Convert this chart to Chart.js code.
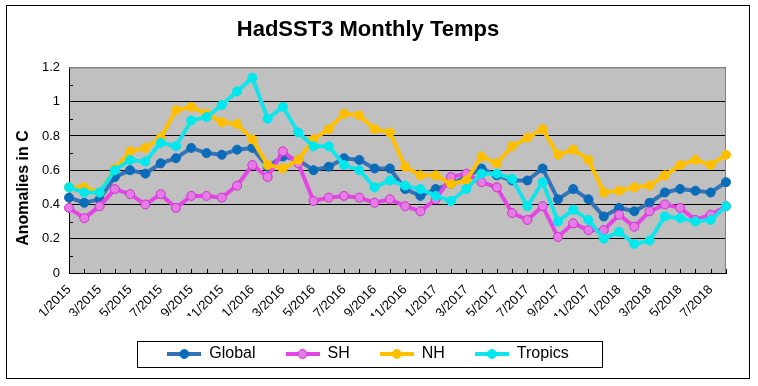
<!DOCTYPE html>
<html>
<head>
<meta charset="utf-8">
<script src="https://cdn.jsdelivr.net/npm/chart.js@4"></script>
<style>
  html, body { margin: 0; padding: 0; background: #fff; }
  #wrap { width: 758px; height: 386px; }
</style>
</head>
<body>
<div id="wrap"><canvas id="tempsChart" width="758" height="386"></canvas></div>
<script>
const months = [
    '1/2015', '2/2015', '3/2015', '4/2015', '5/2015', '6/2015', '7/2015', '8/2015', '9/2015', '10/2015', '11/2015', '12/2015',
    '1/2016', '2/2016', '3/2016', '4/2016', '5/2016', '6/2016', '7/2016', '8/2016', '9/2016', '10/2016', '11/2016', '12/2016',
    '1/2017', '2/2017', '3/2017', '4/2017', '5/2017', '6/2017', '7/2017', '8/2017', '9/2017', '10/2017', '11/2017', '12/2017',
    '1/2018', '2/2018', '3/2018', '4/2018', '5/2018', '6/2018', '7/2018', '8/2018'
];

const globalTemps = [
    0.44, 0.41, 0.43, 0.56, 0.60, 0.58, 0.64, 0.67, 0.73, 0.70, 0.69, 0.72,
    0.73, 0.62, 0.68, 0.66, 0.60, 0.62, 0.67, 0.66, 0.61, 0.61, 0.49, 0.45,
    0.49, 0.52, 0.56, 0.61, 0.57, 0.54, 0.54, 0.61, 0.43, 0.49, 0.43, 0.33,
    0.38, 0.36, 0.41, 0.47, 0.49, 0.48, 0.47, 0.53
];
const shTemps = [
    0.38, 0.32, 0.39, 0.49, 0.46, 0.40, 0.46, 0.38, 0.45, 0.45, 0.44, 0.51,
    0.63, 0.56, 0.71, 0.64, 0.42, 0.44, 0.45, 0.44, 0.41, 0.43, 0.39, 0.36,
    0.43, 0.56, 0.58, 0.53, 0.50, 0.35, 0.31, 0.39, 0.21, 0.29, 0.25, 0.25,
    0.34, 0.27, 0.36, 0.40, 0.38, 0.31, 0.34, 0.39
];
const nhTemps = [
    0.50, 0.50, 0.47, 0.61, 0.71, 0.73, 0.79, 0.95, 0.97, 0.93, 0.88, 0.87,
    0.78, 0.63, 0.61, 0.66, 0.78, 0.84, 0.93, 0.92, 0.84, 0.82, 0.62, 0.57,
    0.57, 0.52, 0.54, 0.68, 0.64, 0.74, 0.79, 0.84, 0.69, 0.72, 0.66, 0.47,
    0.48, 0.50, 0.51, 0.57, 0.63, 0.66, 0.63, 0.69
];
const tropicsTemps = [
    0.50, 0.47, 0.47, 0.60, 0.66, 0.65, 0.76, 0.74, 0.89, 0.91, 0.98, 1.06,
    1.14, 0.90, 0.97, 0.82, 0.74, 0.74, 0.63, 0.60, 0.50, 0.54, 0.51, 0.49,
    0.45, 0.42, 0.49, 0.58, 0.58, 0.55, 0.39, 0.53, 0.30, 0.37, 0.31, 0.20,
    0.24, 0.17, 0.19, 0.33, 0.32, 0.30, 0.31, 0.39
];

const FONT = "'Liberation Sans', Arial, sans-serif";

// little line-with-dot picture for the legend
function legendMarker(line, fill, stroke) {
    const c = document.createElement('canvas');
    c.width = 34;
    c.height = 12;
    const g = c.getContext('2d');
    g.strokeStyle = line;
    g.lineWidth = 4;
    g.beginPath();
    g.moveTo(0, 6);
    g.lineTo(34, 6);
    g.stroke();
    g.beginPath();
    g.arc(17, 6, 4.5, 0, Math.PI * 2);
    g.fillStyle = fill;
    g.fill();
    g.lineWidth = 1;
    g.strokeStyle = stroke;
    g.stroke();
    return c;
}

const series = [
    { label: 'Global', data: globalTemps, line: '#3473b5', fill: '#0b6cba', stroke: '#0b6cba', order: 4 },
    { label: 'SH', data: shTemps, line: '#e545e5', fill: '#e67ae6', stroke: '#cc33cc', order: 3 },
    { label: 'NH', data: nhTemps, line: '#ffc000', fill: '#ffbf00', stroke: '#ffbf00', order: 2 },
    { label: 'Tropics', data: tropicsTemps, line: '#14e4ea', fill: '#00e8ee', stroke: '#00e8ee', order: 1 }
];

const framePlugin = {
    id: 'frame',
    beforeDraw(chart) {
        const { ctx, chartArea: a } = chart;
        ctx.save();
        ctx.fillStyle = '#fff';
        ctx.fillRect(0, 0, chart.width, chart.height);
        ctx.fillStyle = '#c0c0c0';
        ctx.fillRect(a.left, a.top, a.right - a.left, a.bottom - a.top);
        ctx.restore();
    },
    beforeDatasetsDraw(chart) {
        const { ctx, chartArea: a, scales } = chart;
        ctx.save();
        // grey top / right edge of the plot
        ctx.strokeStyle = '#808080';
        ctx.lineWidth = 1;
        ctx.beginPath();
        ctx.moveTo(a.left, a.top + 0.5);
        ctx.lineTo(a.right - 0.5, a.top + 0.5);
        ctx.lineTo(a.right - 0.5, a.bottom);
        ctx.stroke();
        // inner tick marks
        ctx.strokeStyle = '#000';
        ctx.beginPath();
        for (let v = 0.1; v < 1.2; v += 0.2) {
            const y = Math.round(scales.y.getPixelForValue(v)) + 0.5;
            ctx.moveTo(a.left, y);
            ctx.lineTo(a.left + 4, y);
        }
        for (let i = 0; i < months.length; i++) {
            const x = Math.round(scales.x.getPixelForValue(i)) + 0.5;
            ctx.moveTo(x, a.bottom);
            ctx.lineTo(x, a.bottom - 4);
        }
        ctx.stroke();
        ctx.restore();
    },
    afterDraw(chart) {
        const { ctx } = chart;
        ctx.save();
        ctx.strokeStyle = '#000';
        ctx.lineWidth = 1;
        ctx.strokeRect(6.5, 5.5, 743, 373);
        // y axis title, sits a bit below the middle like the original
        ctx.translate(24, 188);
        ctx.rotate(-Math.PI / 2);
        ctx.font = 'bold 16px ' + FONT;
        ctx.fillStyle = '#000';
        ctx.textAlign = 'center';
        ctx.textBaseline = 'middle';
        ctx.fillText('Anomalies in C', 0, 0);
        ctx.setTransform(1, 0, 0, 1, 0, 0);
        // box round the legend
        const boxes = chart.legend.legendHitBoxes;
        if (boxes && boxes.length) {
            const first = boxes[0];
            const last = boxes[boxes.length - 1];
            const left = Math.round(first.left - 30) + 0.5;
            const right = Math.round(last.left + last.width + 33) + 0.5;
            const mid = first.top + first.height / 2;
            const top = Math.round(mid - 13) + 0.5;
            ctx.strokeRect(left, top, right - left, 26);
        }
        ctx.restore();
    }
};

new Chart(document.getElementById('tempsChart').getContext('2d'), {
    type: 'line',
    data: {
        labels: months,
        datasets: series.map(s => ({
            label: s.label,
            data: s.data,
            order: s.order,
            borderColor: s.line,
            backgroundColor: s.fill,
            borderWidth: 4,
            tension: 0,
            pointRadius: 4.5,
            pointBorderWidth: 1,
            pointBackgroundColor: s.fill,
            pointBorderColor: s.stroke,
            pointStyle: 'circle'
        }))
    },
    options: {
        responsive: false,
        animation: false,
        devicePixelRatio: 1,
        layout: { padding: { left: 10, right: 32, top: 5, bottom: 14 } },
        scales: {
            x: {
                offset: false,
                grid: { display: false, drawTicks: false },
                border: { color: '#000', width: 1 },
                ticks: {
                    autoSkip: false,
                    minRotation: 45,
                    maxRotation: 45,
                    padding: 9,
                    color: '#000',
                    font: { family: FONT, size: 13 },
                    callback: (val, i) => (i % 2 === 0 ? months[i] : '')
                },
                afterFit: s => { s.height = 43; }
            },
            y: {
                min: 0,
                max: 1.2,
                ticks: {
                    stepSize: 0.2,
                    padding: 9,
                    color: '#000',
                    font: { family: FONT, size: 13 },
                    callback: v => String(parseFloat(v.toFixed(1)))
                },
                grid: {
                    drawTicks: false,
                    color: ctx => (ctx.tick && ctx.tick.value >= 1.2 ? '#808080' : '#000'),
                    lineWidth: 1
                },
                border: { color: '#000', width: 1 },
                afterFit: s => { s.width = 59; }
            }
        },
        plugins: {
            title: {
                display: true,
                text: 'HadSST3 Monthly Temps',
                color: '#000',
                font: { family: FONT, size: 22, weight: 'bold' },
                padding: { top: 12, bottom: 24 }
            },
            legend: {
                position: 'bottom',
                labels: {
                    usePointStyle: true,
                    pointStyleWidth: 34,
                    padding: 30,
                    color: '#000',
                    font: { family: FONT, size: 16 },
                    generateLabels: chart => series.map((s, i) => ({
                        text: s.label,
                        pointStyle: legendMarker(s.line, s.fill, s.stroke),
                        fontColor: '#000',
                        hidden: !chart.isDatasetVisible(i),
                        datasetIndex: i,
                        lineWidth: 0,
                        strokeStyle: 'transparent',
                        fillStyle: 'transparent'
                    }))
                }
            },
            tooltip: { enabled: false }
        }
    },
    plugins: [framePlugin]
});
</script>
</body>
</html>
